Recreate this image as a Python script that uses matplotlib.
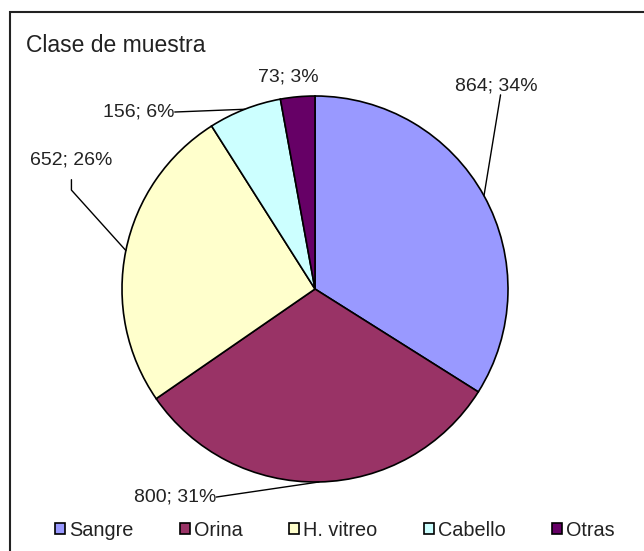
import numpy as np
import matplotlib.pyplot as plt
from matplotlib.patches import Rectangle

plt.rcParams['font.family'] = ['Liberation Sans', 'DejaVu Sans']

## sample classes and counts
names = ['Sangre', 'Orina', 'H. vitreo', 'Cabello', 'Otras']
counts = [864, 800, 652, 156, 73]
pcts = [34, 31, 26, 6, 3]
colors = ['#9999FF', '#993366', '#FFFFCC', '#CCFFFF', '#660066']

## label text positions (data units, pie radius = 1), leader start on text, leader shape
label_pos = [(0.94, 1.05), (-0.725, -1.078), (-1.262, 0.668), (-0.912, 0.917), (-0.14, 1.10)]
label_rel = [(0.55, 0.0), (1.0, 0.5), (0.5, 0.0), (1.0, 0.5), None]
label_conn = ['arc3', 'arc3', 'angle,angleA=90,angleB=-48,rad=0', 'arc3', None]

fig = plt.figure(figsize=(6.44, 5.51), dpi=100)
ax = fig.add_axes([0, 0, 1, 1])

wedges, _ = ax.pie(counts, colors=colors, startangle=90, counterclock=False,
                   radius=1.0, wedgeprops=dict(edgecolor='black', linewidth=1.2))

## map axes so 1 data unit = 193 px, pie centre at pixel (315, 289)
R = 193.0
ax.set_xlim(-315 / R, (644 - 315) / R)
ax.set_ylim((289 - 551) / R, 289 / R)
ax.set_aspect('auto')
ax.axis('off')

for w, c, p, pos, rel, conn in zip(wedges, counts, pcts, label_pos, label_rel, label_conn):
    mid = np.deg2rad((w.theta1 + w.theta2) / 2.0)
    edge = (np.cos(mid), np.sin(mid))
    txt = '%d; %d%%' % (c, p)
    if rel is None:
        ax.text(pos[0], pos[1], txt, ha='center', va='center', fontsize=14, color='#222222')
    else:
        shrink = 8 if conn.startswith('angle') else 0
        ax.annotate(txt, xy=edge, xytext=pos, ha='center', va='center',
                    fontsize=14, color='#222222',
                    arrowprops=dict(arrowstyle='-', color='black', lw=1.0,
                                    shrinkA=shrink, shrinkB=0, relpos=rel,
                                    patchA=None, connectionstyle=conn))

fig.text(26 / 644, 1 - 52 / 551, 'Clase de muestra', fontsize=16.5, color='#222222',
         ha='left', va='baseline')

leg = fig.legend(wedges, names, loc='center left', bbox_to_anchor=(55 / 644, 1 - 530 / 551),
                 ncol=5, frameon=False, fontsize=14.3, handlelength=0.5, handleheight=0.5,
                 handletextpad=0.2, columnspacing=2.35, borderaxespad=0, borderpad=0)
for t in leg.get_texts():
    t.set_color('#222222')

## outer frame, cut by the right and bottom edges like the scan
fig.add_artist(Rectangle((10 / 644, -0.1), 1.0, 1 - 12 / 551 + 0.1, transform=fig.transFigure,
                         fill=False, edgecolor='#222222', linewidth=1.5))

fig.savefig('out.png', dpi=100)
plt.close()
